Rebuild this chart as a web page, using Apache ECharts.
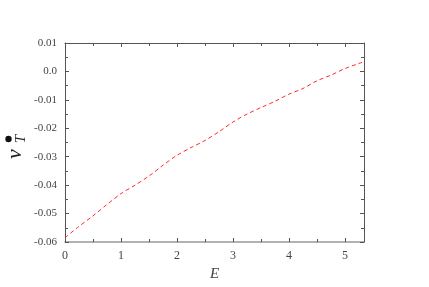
<!DOCTYPE html>
<html>
<head>
<meta charset="utf-8">
<script src="https://cdn.jsdelivr.net/npm/echarts@6/dist/echarts.min.js"></script>
<style>html,body{margin:0;padding:0;background:#fff;}#c{width:429px;height:287px;}</style>
</head>
<body>
<div id="c"></div>
<script>
const energies = [0, 0.25, 0.5, 0.75, 1.0, 1.25, 1.5, 1.75, 2.0, 2.25, 2.5, 2.75, 3.0, 3.25, 3.5, 3.75, 4.0, 4.25, 4.5, 4.75, 5.0, 5.25, 5.34];
const nuT = [-0.0585, -0.0545, -0.0508, -0.0468, -0.0430, -0.0400, -0.0368, -0.0330, -0.0295, -0.0268, -0.0243, -0.0212, -0.0178, -0.0150, -0.0127, -0.0105, -0.0080, -0.0060, -0.0033, -0.0013, 0.0010, 0.0028, 0.0034];
const xTicks = [0, 1, 2, 3, 4, 5];
const yTicks = ['-0.06', '-0.05', '-0.04', '-0.03', '-0.02', '-0.01', '0.0', '0.01'];

const chart = echarts.init(document.getElementById('c'), null, {renderer: 'canvas'});
const serif = '"Liberation Serif", "DejaVu Serif", serif';
const axisColor = '#555';
function yLabel(v) {
  const r = Math.round(v * 100);
  const idx = r + 6;
  return yTicks[idx] !== undefined ? yTicks[idx] : '';
}
function xLabel(v) {
  return xTicks.indexOf(Math.round(v * 100) / 100) >= 0 ? String(v) : '';
}
const tickCommon = {show: true, inside: true, length: 4, lineStyle: {color: axisColor}};
const minorCommon = {show: true, splitNumber: 2, length: 3, lineStyle: {color: axisColor}};
chart.setOption({
  animation: false,
  backgroundColor: '#fff',
  grid: {left: 65, right: 65, top: 43, bottom: 45},
  xAxis: [{
    type: 'value', min: 0, max: 5.34, interval: 1, position: 'bottom',
    name: 'E', nameLocation: 'middle', nameGap: 22,
    nameTextStyle: {fontFamily: serif, fontStyle: 'italic', fontSize: 15, color: '#444'},
    axisLine: {show: true, onZero: false, lineStyle: {color: '#999', width: 1.5}},
    axisTick: tickCommon, minorTick: minorCommon,
    splitLine: {show: false},
    axisLabel: {formatter: xLabel, fontFamily: serif, fontSize: 12, color: '#444', margin: 8, showMaxLabel: false}
  }, {
    type: 'value', min: 0, max: 5.34, interval: 1, position: 'top',
    axisLine: {show: true, onZero: false, lineStyle: {color: axisColor}},
    axisTick: tickCommon, minorTick: minorCommon,
    splitLine: {show: false}, axisLabel: {show: false}
  }],
  yAxis: [{
    type: 'value', min: -0.06, max: 0.01, interval: 0.01, position: 'left',
    axisLine: {show: true, onZero: false, lineStyle: {color: axisColor}},
    axisTick: tickCommon, minorTick: minorCommon,
    splitLine: {show: false},
    axisLabel: {formatter: yLabel, fontFamily: serif, fontSize: 11, color: '#444', margin: 8}
  }, {
    type: 'value', min: -0.06, max: 0.01, interval: 0.01, position: 'right',
    axisLine: {show: true, onZero: false, lineStyle: {color: axisColor}},
    axisTick: tickCommon, minorTick: minorCommon,
    splitLine: {show: false}, axisLabel: {show: false}
  }],
  graphic: [
    {type: 'text', x: 15, y: 154, rotation: Math.PI / 2, style: {text: 'ν', font: 'italic 22px ' + serif, fill: '#222', align: 'center', verticalAlign: 'middle'}},
    {type: 'text', x: 21, y: 139, rotation: Math.PI / 2, style: {text: 'T', font: 'italic 15px ' + serif, fill: '#222', align: 'center', verticalAlign: 'middle'}},
    {type: 'circle', shape: {cx: 8.5, cy: 139, r: 3.2}, style: {fill: '#111'}}
  ],
  series: [{
    type: 'line', xAxisIndex: 0, yAxisIndex: 0,
    data: energies.map((e, i) => [e, nuT[i]]),
    showSymbol: false, smooth: 0.3,
    lineStyle: {color: '#ff2a2a', width: 1, type: [4, 3]}
  }]
});
</script>
</body>
</html>
